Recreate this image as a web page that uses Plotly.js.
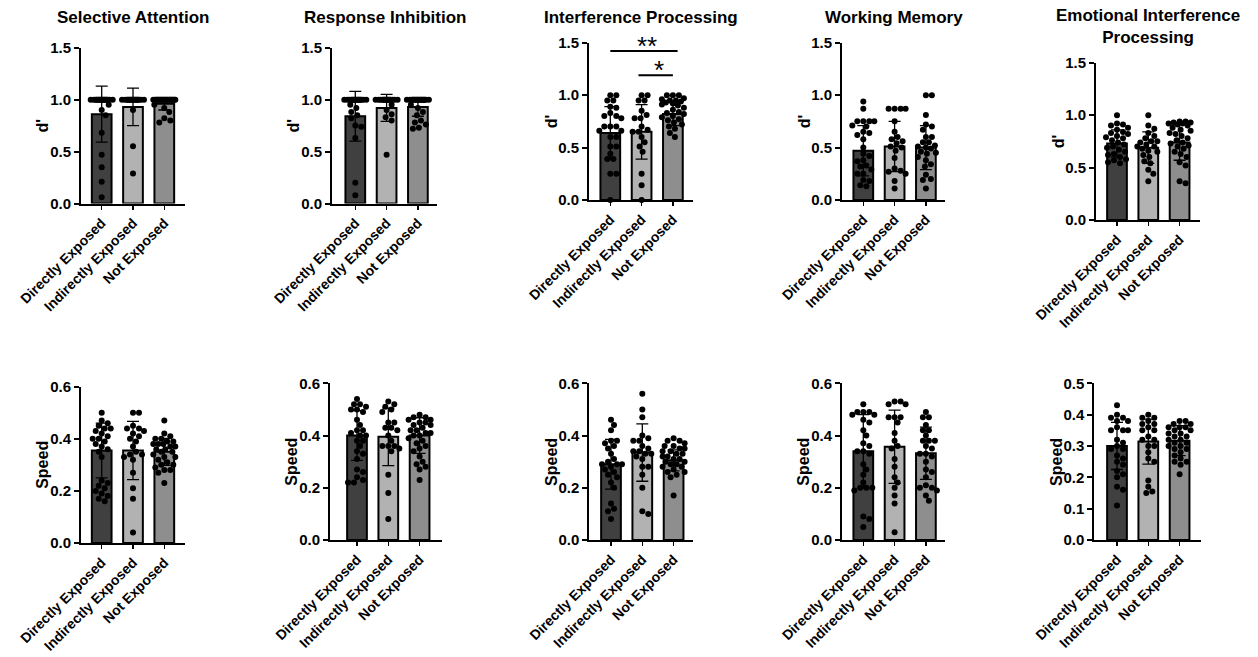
<!DOCTYPE html>
<html>
<head>
<meta charset="utf-8">
<script src="https://cdn.plot.ly/plotly-3.0.1.min.js"></script>
<style>html,body{margin:0;padding:0;background:#fff;}#chart{width:1258px;height:657px;}</style>
</head>
<body>
<div id="chart"></div>
<script>
// ---------------- DATA ----------------
const groups = ['Directly Exposed', 'Indirectly Exposed', 'Not Exposed'];
const panelTitles = ['Selective Attention', 'Response Inhibition', 'Interference Processing', 'Working Memory', 'Emotional Interference<br>Processing'];
const barColors = ['#404040', '#b2b2b2', '#8e8e8e'];

// bar heights (means) and SD error bars
const dprimeMeans = [[0.86, 0.93, 0.96], [0.84, 0.92, 0.93], [0.64, 0.65, 0.82], [0.47, 0.51, 0.50], [0.73, 0.69, 0.74]];
const dprimeSDs   = [[0.27, 0.18, 0.06], [0.24, 0.13, 0.09], [0.25, 0.26, 0.11], [0.24, 0.24, 0.21], [0.13, 0.15, 0.17]];
const speedMeans  = [[0.355, 0.355, 0.35], [0.40, 0.395, 0.40], [0.29, 0.335, 0.305], [0.34, 0.357, 0.332], [0.30, 0.314, 0.317]];
const speedSDs    = [[0.105, 0.112, 0.052], [0.095, 0.11, 0.068], [0.095, 0.11, 0.04], [0.14, 0.14, 0.10], [0.075, 0.072, 0.048]];

// individual participant points: d'
const saDprime = [
  [1, 1, 1, 1, 1, 1, 1, 1, 1, 1, 1, 1, 1, 1, 1, 1, 1, 0.95, 0.90, 0.85, 0.68, 0.47, 0.35, 0.21, 0.06],
  [1, 1, 1, 1, 1, 1, 1, 1, 1, 1, 1, 1, 1, 1, 1, 1, 1, 0.90, 0.55, 0.29],
  [1, 1, 1, 1, 1, 1, 1, 1, 1, 1, 1, 1, 1, 1, 1, 1, 1, 1, 1, 1, 1, 1, 0.95, 0.92, 0.88, 0.82, 0.80, 0.78]
];
const riDprime = [
  [1, 1, 1, 1, 1, 1, 1, 1, 1, 1, 1, 1, 1, 1, 1, 1, 0.95, 0.92, 0.88, 0.85, 0.82, 0.75, 0.74, 0.63, 0.20, 0.08],
  [1, 1, 1, 1, 1, 1, 1, 1, 1, 1, 1, 1, 1, 1, 1, 0.95, 0.90, 0.86, 0.83, 0.80, 0.47],
  [1, 1, 1, 1, 1, 1, 1, 1, 1, 1, 1, 1, 1, 1, 1, 1, 1, 1, 0.95, 0.92, 0.88, 0.85, 0.80, 0.78, 0.76, 0.73, 0.72]
];
const ipDprime = [
  [1.0, 1.0, 0.95, 0.95, 0.89, 0.88, 0.83, 0.80, 0.80, 0.78, 0.70, 0.70, 0.70, 0.66, 0.66, 0.60, 0.60, 0.51, 0.51, 0.44, 0.39, 0.39, 0.25, 0.25, 0.0],
  [1.0, 1.0, 0.95, 0.95, 0.85, 0.81, 0.78, 0.78, 0.70, 0.67, 0.65, 0.65, 0.60, 0.55, 0.51, 0.46, 0.25, 0.14, 0.0],
  [1.0, 1.0, 1.0, 0.97, 0.96, 0.95, 0.95, 0.94, 0.93, 0.92, 0.91, 0.90, 0.88, 0.86, 0.84, 0.83, 0.82, 0.80, 0.79, 0.77, 0.76, 0.74, 0.72, 0.70, 0.68, 0.64, 0.60]
];
const wmDprime = [
  [0.94, 0.87, 0.75, 0.75, 0.75, 0.75, 0.71, 0.70, 0.65, 0.64, 0.62, 0.58, 0.50, 0.44, 0.42, 0.38, 0.37, 0.33, 0.32, 0.29, 0.25, 0.25, 0.19, 0.18, 0.14, 0.13],
  [0.87, 0.87, 0.87, 0.87, 0.75, 0.65, 0.60, 0.58, 0.56, 0.54, 0.51, 0.50, 0.47, 0.40, 0.30, 0.28, 0.27, 0.25, 0.18, 0.11],
  [1.0, 1.0, 0.81, 0.72, 0.70, 0.67, 0.60, 0.60, 0.55, 0.55, 0.52, 0.51, 0.50, 0.49, 0.46, 0.45, 0.44, 0.41, 0.38, 0.34, 0.32, 0.24, 0.20, 0.19, 0.11]
];
const eipDprime = [
  [1.0, 0.92, 0.91, 0.90, 0.88, 0.86, 0.84, 0.83, 0.82, 0.80, 0.79, 0.78, 0.76, 0.74, 0.72, 0.70, 0.69, 0.67, 0.65, 0.63, 0.62, 0.60, 0.58, 0.57, 0.55, 0.54],
  [1.0, 0.90, 0.87, 0.83, 0.80, 0.78, 0.75, 0.75, 0.74, 0.72, 0.70, 0.70, 0.68, 0.66, 0.65, 0.62, 0.60, 0.56, 0.54, 0.48, 0.44, 0.37],
  [0.94, 0.94, 0.93, 0.93, 0.92, 0.92, 0.91, 0.90, 0.88, 0.86, 0.85, 0.83, 0.82, 0.80, 0.78, 0.76, 0.74, 0.73, 0.71, 0.70, 0.68, 0.65, 0.63, 0.60, 0.55, 0.52, 0.37, 0.35]
];

// individual participant points: speed
const saSpeed = [
  [0.50, 0.47, 0.46, 0.45, 0.44, 0.44, 0.43, 0.42, 0.41, 0.40, 0.40, 0.39, 0.38, 0.37, 0.36, 0.35, 0.33, 0.24, 0.23, 0.22, 0.21, 0.20, 0.19, 0.18, 0.17, 0.16],
  [0.50, 0.50, 0.45, 0.44, 0.44, 0.43, 0.42, 0.41, 0.40, 0.39, 0.37, 0.35, 0.34, 0.34, 0.33, 0.32, 0.27, 0.21, 0.17, 0.04],
  [0.47, 0.42, 0.41, 0.40, 0.40, 0.39, 0.39, 0.38, 0.38, 0.38, 0.37, 0.37, 0.36, 0.36, 0.35, 0.35, 0.34, 0.33, 0.33, 0.32, 0.31, 0.30, 0.30, 0.29, 0.28, 0.28, 0.27, 0.23]
];
const riSpeed = [
  [0.54, 0.52, 0.52, 0.51, 0.50, 0.50, 0.49, 0.46, 0.44, 0.42, 0.42, 0.41, 0.40, 0.40, 0.38, 0.38, 0.36, 0.34, 0.33, 0.31, 0.27, 0.26, 0.24, 0.23, 0.22, 0.22],
  [0.53, 0.52, 0.51, 0.50, 0.49, 0.45, 0.45, 0.43, 0.43, 0.42, 0.40, 0.38, 0.36, 0.36, 0.36, 0.35, 0.34, 0.25, 0.18, 0.08],
  [0.48, 0.47, 0.47, 0.46, 0.46, 0.45, 0.45, 0.44, 0.44, 0.43, 0.42, 0.42, 0.41, 0.41, 0.40, 0.40, 0.39, 0.38, 0.37, 0.36, 0.35, 0.34, 0.32, 0.30, 0.29, 0.28, 0.27, 0.23]
];
const ipSpeed = [
  [0.46, 0.44, 0.42, 0.38, 0.38, 0.37, 0.36, 0.35, 0.33, 0.31, 0.30, 0.29, 0.29, 0.29, 0.28, 0.27, 0.26, 0.25, 0.24, 0.22, 0.20, 0.14, 0.12, 0.11, 0.08],
  [0.56, 0.50, 0.47, 0.40, 0.39, 0.38, 0.38, 0.36, 0.35, 0.34, 0.34, 0.33, 0.33, 0.32, 0.31, 0.28, 0.28, 0.25, 0.20, 0.11, 0.10],
  [0.39, 0.38, 0.38, 0.37, 0.36, 0.36, 0.35, 0.35, 0.34, 0.34, 0.33, 0.33, 0.32, 0.32, 0.31, 0.31, 0.30, 0.30, 0.29, 0.29, 0.28, 0.28, 0.27, 0.26, 0.26, 0.25, 0.24, 0.17]
];
const wmSpeed = [
  [0.52, 0.49, 0.49, 0.49, 0.48, 0.48, 0.46, 0.45, 0.42, 0.40, 0.37, 0.36, 0.34, 0.34, 0.33, 0.29, 0.27, 0.25, 0.22, 0.20, 0.20, 0.20, 0.19, 0.09, 0.08, 0.05],
  [0.53, 0.53, 0.52, 0.52, 0.47, 0.47, 0.47, 0.45, 0.41, 0.38, 0.36, 0.35, 0.31, 0.28, 0.24, 0.22, 0.20, 0.17, 0.14, 0.03],
  [0.49, 0.47, 0.47, 0.44, 0.42, 0.42, 0.40, 0.38, 0.38, 0.38, 0.36, 0.35, 0.33, 0.33, 0.32, 0.30, 0.27, 0.26, 0.24, 0.21, 0.20, 0.20, 0.19, 0.17, 0.15]
];
const eipSpeed = [
  [0.43, 0.40, 0.39, 0.39, 0.38, 0.38, 0.36, 0.35, 0.35, 0.35, 0.32, 0.31, 0.30, 0.29, 0.29, 0.27, 0.26, 0.25, 0.24, 0.22, 0.21, 0.20, 0.17, 0.16, 0.11],
  [0.40, 0.39, 0.39, 0.38, 0.37, 0.37, 0.36, 0.35, 0.35, 0.33, 0.32, 0.32, 0.30, 0.30, 0.28, 0.26, 0.25, 0.19, 0.17, 0.155, 0.15],
  [0.38, 0.38, 0.37, 0.37, 0.36, 0.36, 0.36, 0.35, 0.35, 0.34, 0.34, 0.33, 0.33, 0.32, 0.32, 0.31, 0.31, 0.30, 0.30, 0.29, 0.29, 0.28, 0.27, 0.26, 0.25, 0.25, 0.24, 0.21]
];

const dprimePoints = [saDprime, riDprime, ipDprime, wmDprime, eipDprime];
const speedPoints = [saSpeed, riSpeed, ipSpeed, wmSpeed, eipSpeed];
const dprimeAxisMax = [1.5, 1.5, 1.5, 1.5, 1.5];
const speedAxisMax = [0.6, 0.6, 0.6, 0.6, 0.5];
const speedTickStep = [0.2, 0.2, 0.2, 0.2, 0.1];

// significance brackets (panel index, from group, to group, height, label)
const sigPanel = [2, 2];
const sigFrom = [0, 0.9];
const sigTo = [2.15, 2];
const sigY = [1.42, 1.19];
const sigLabel = ['**', '*'];

// ---------------- LAYOUT GEOMETRY (pixels) ----------------
const W = 1258, H = 657, SP = 31.3;
// [axisX, firstBarX, endX, zeroY, topY]
const topBoxes = [[81, 101.7, 185, 203.5, 47.7], [332, 355.3, 437, 203.5, 47.7], [589, 610.3, 693, 200, 42.7], [842, 863.3, 945, 200, 42.7], [1096, 1117, 1200, 220, 62.7]];
const botBoxes = [[81, 101.7, 185, 543, 386.7], [330, 357, 442, 540, 383.3], [589.3, 611, 693.3, 540, 383.3], [842, 863.3, 945, 540, 383.3], [1094.3, 1117, 1201, 540, 383.3]];

const FONT = 'Liberation Sans, Arial, Helvetica, sans-serif';
const MS = 6; // marker size px

function swarmOffsets(vals, yPxPerUnit, xPxPerUnit, size, maxOff) {
  const order = vals.map((v, i) => i).sort((a, b) => vals[b] - vals[a]);
  const placed = [];
  const offs = new Array(vals.length);
  const cands = [0];
  for (let k = 1; k <= maxOff; k++) { cands.push(k, -k); }
  for (const i of order) {
    const yp = vals[i] * yPxPerUnit;
    let chosen = null, best = 0, bestScore = -1;
    for (const c of cands) {
      let minD = Infinity;
      for (const p of placed) {
        const d = Math.hypot(p.x - c, p.y - yp);
        if (d < minD) minD = d;
      }
      if (minD >= size) { chosen = c; break; }
      if (minD > bestScore) { bestScore = minD; best = c; }
    }
    if (chosen === null) chosen = best;
    placed.push({ x: chosen, y: yp });
    offs[i] = chosen / xPxPerUnit;
  }
  return offs;
}

const traces = [];
const layout = {
  width: W, height: H,
  margin: { l: 0, r: 0, t: 0, b: 0 },
  paper_bgcolor: '#ffffff', plot_bgcolor: 'rgba(0,0,0,0)',
  showlegend: false,
  font: { family: FONT, color: '#000', weight: 700 },
  annotations: [], shapes: []
};

function addPanel(idx, box, means, sds, pts, ymax, dtick, ytitle, title) {
  const n = idx + 1;
  const xa = 'xaxis' + (n === 1 ? '' : n), ya = 'yaxis' + (n === 1 ? '' : n);
  const xr = 'x' + (n === 1 ? '' : n), yr = 'y' + (n === 1 ? '' : n);
  const [ax, b1, ex, y0, yt] = box;
  const xRange = [(ax - b1) / SP, (ex - b1) / SP];
  layout[xa] = {
    domain: [ax / W, ex / W], range: xRange, anchor: yr,
    tickmode: 'array', tickvals: [0, 1, 2], ticktext: groups, tickangle: -45,
    showline: true, linecolor: '#000', linewidth: 2, ticks: 'outside', ticklen: 4, tickwidth: 1.5, tickcolor: '#000',
    showgrid: false, zeroline: false, fixedrange: true,
    tickfont: { family: FONT, size: 14, color: '#000', weight: 700 }
  };
  layout[ya] = {
    domain: [1 - y0 / H, 1 - yt / H], range: [0, ymax], anchor: xr,
    tickmode: 'linear', tick0: 0, dtick: dtick, tickformat: '.1f',
    showline: true, linecolor: '#000', linewidth: 2, ticks: 'outside', ticklen: 5, tickwidth: 2, tickcolor: '#000',
    showgrid: false, zeroline: false, fixedrange: true,
    tickfont: { family: FONT, size: 15, color: '#000', weight: 700 }
  };
  // y-axis title as rotated text beside the tick labels
  layout.annotations.push({
    xref: 'paper', yref: 'paper', x: (ax - 38) / W, y: 1 - ((y0 + yt) / 2) / H,
    xanchor: 'center', yanchor: 'middle', showarrow: false, textangle: -90, text: ytitle,
    font: { family: FONT, size: 16, color: '#000', weight: 700 }
  });
  traces.push({
    type: 'bar', x: [0, 1, 2], y: means, xaxis: xr, yaxis: yr, width: 0.63,
    marker: { color: barColors, line: { color: '#000', width: 2 } },
    error_y: { type: 'data', array: sds, visible: true, color: '#000', thickness: 1.3, width: 6 },
    hoverinfo: 'skip'
  });
  const yPx = (y0 - yt) / ymax;
  for (let g = 0; g < 3; g++) {
    const offs = swarmOffsets(pts[g], yPx, SP, MS, 11);
    traces.push({
      type: 'scatter', mode: 'markers', xaxis: xr, yaxis: yr,
      x: pts[g].map((v, i) => g + offs[i]), y: pts[g],
      marker: { color: '#000', size: MS, line: { width: 0 } },
      cliponaxis: false, hoverinfo: 'skip'
    });
  }
  if (title) {
    const lines = title.split('<br>').length;
    layout.annotations.push({
      xref: 'paper', yref: 'paper', x: ((ax + ex) / 2) / W, y: 1 - (lines > 1 ? 27 : 17) / H,
      xanchor: 'center', yanchor: 'middle', showarrow: false, text: title,
      font: { family: FONT, size: 17, color: '#000', weight: 700 }
    });
  }
  return { xr, yr };
}

const refs = [];
for (let p = 0; p < 5; p++) {
  refs.push(addPanel(p, topBoxes[p], dprimeMeans[p], dprimeSDs[p], dprimePoints[p], dprimeAxisMax[p], 0.5, "d'", panelTitles[p]));
}
for (let p = 0; p < 5; p++) {
  addPanel(p + 5, botBoxes[p], speedMeans[p], speedSDs[p], speedPoints[p], speedAxisMax[p], speedTickStep[p], 'Speed', null);
}

for (let s = 0; s < sigPanel.length; s++) {
  const r = refs[sigPanel[s]];
  layout.shapes.push({ type: 'line', xref: r.xr, yref: r.yr, x0: sigFrom[s], x1: sigTo[s], y0: sigY[s], y1: sigY[s], line: { color: '#000', width: 2 } });
  layout.annotations.push({
    xref: r.xr, yref: r.yr, x: (sigFrom[s] + sigTo[s]) / 2 + 0.1, y: sigY[s], xanchor: 'center', yanchor: 'bottom', yshift: -12,
    showarrow: false, text: sigLabel[s], font: { family: FONT, size: 26, color: '#000', weight: 400 }
  });
}

Plotly.newPlot('chart', traces, layout, { staticPlot: true, displayModeBar: false });
</script>
</body>
</html>
